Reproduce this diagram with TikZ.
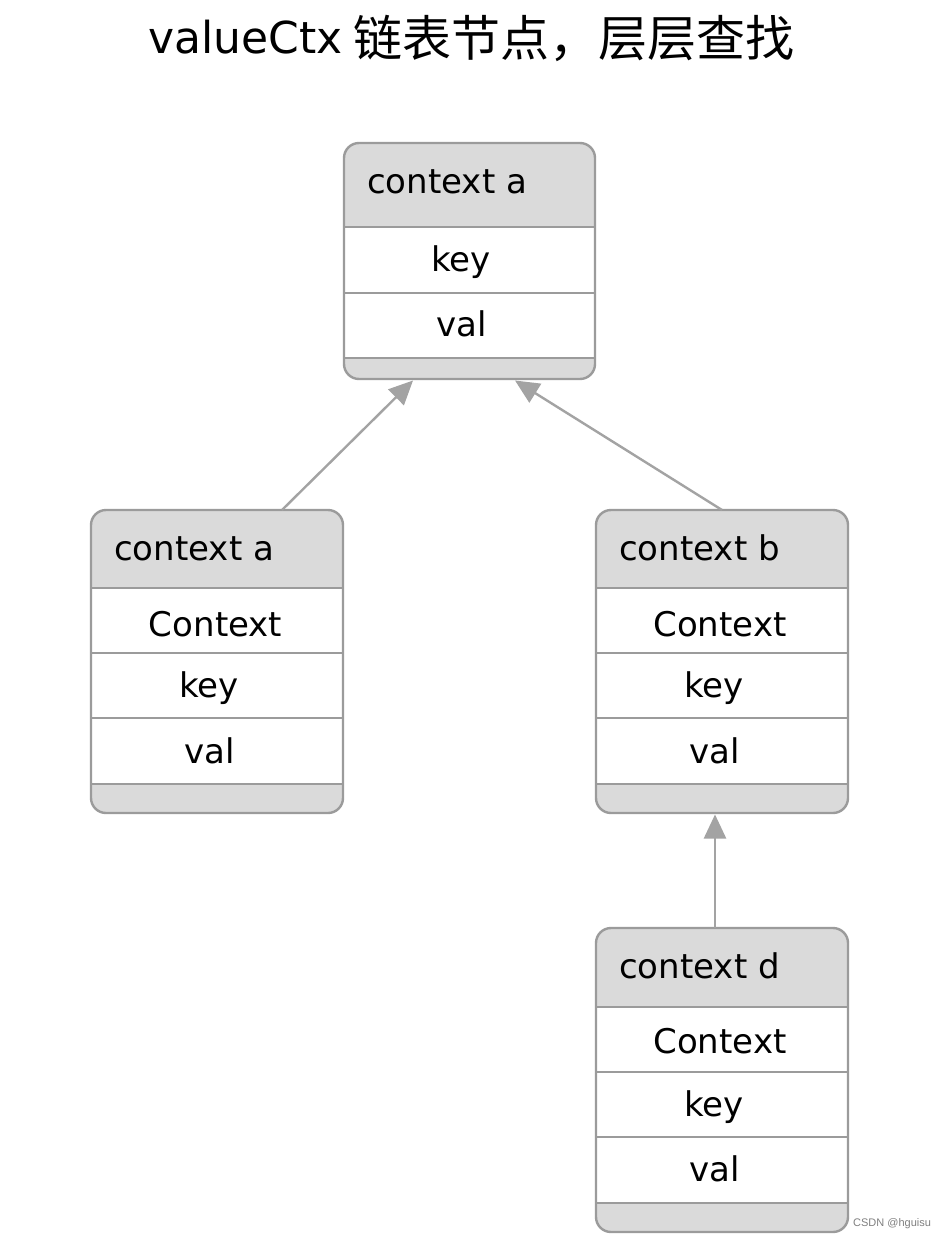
\documentclass[tikz,border=0pt]{standalone}
\usepackage{fontspec}
\usetikzlibrary{arrows.meta,calc}
\newfontfamily\dvs{DejaVu Sans}
\newfontfamily\cjk{Noto Sans CJK SC}
\newfontfamily\lib{Liberation Sans}
\definecolor{bord}{HTML}{9B9B9B}
\definecolor{hdr}{HTML}{DADADA}
\definecolor{arrc}{HTML}{A3A3A3}
\begin{document}
\begin{tikzpicture}[x=1pt,y=-1pt,
  ctx/.style={draw=none, fill=hdr, rounded corners=15pt, inner sep=0pt, outer sep=0pt},
  outline/.style={draw=bord, line width=2.4pt, rounded corners=15pt},
  sepline/.style={draw=bord, line width=2.2pt},
  hd/.style={anchor=base west, inner sep=0pt, font=\dvs\fontsize{34}{40}\selectfont},
  fld/.style={anchor=base, inner sep=0pt, font=\dvs\fontsize{34}{40}\selectfont},
  arr/.style={draw=arrc, line width=2.4pt, -{Triangle[length=24pt,width=22pt]}}
]
\useasboundingbox[fill=white] (0,0) rectangle (946,1242);

% title
\node[anchor=base west, inner sep=0pt] (title) at (148,53)
  {\dvs\fontsize{44}{50}\selectfont valueCtx\raisebox{-3pt}{\cjk\fontsize{49}{55}\selectfont\ 链表节点，层层查找}};

% ---- top box
\node[ctx, minimum width=251pt, minimum height=236pt] (top) at (469.5,261) {};
\fill[white] (344,227) rectangle (595,358);
\draw[sepline] (344,227) -- (595,227) (344,293) -- (595,293) (344,358) -- (595,358);
\draw[outline] (top.north west) rectangle (top.south east);
\node[hd] (top-h) at (367,193) {context a};
\node[fld] (top-k) at (461,271) {key};
\node[fld] (top-v) at (462,336) {val};

% ---- left box
\node[ctx, minimum width=252pt, minimum height=303pt] (la) at (217,661.5) {};
\fill[white] (91,588) rectangle (343,784);
\draw[sepline] (91,588) -- (343,588) (91,653) -- (343,653) (91,718) -- (343,718) (91,784) -- (343,784);
\draw[outline] (la.north west) rectangle (la.south east);
\node[hd] (la-h) at (114,560) {context a};
\node[fld] (la-c) at (215.5,636) {Context};
\node[fld] (la-k) at (209,697) {key};
\node[fld] (la-v) at (210,763) {val};

% ---- box b
\node[ctx, minimum width=252pt, minimum height=303pt] (b) at (722,661.5) {};
\fill[white] (596,588) rectangle (848,784);
\draw[sepline] (596,588) -- (848,588) (596,653) -- (848,653) (596,718) -- (848,718) (596,784) -- (848,784);
\draw[outline] (b.north west) rectangle (b.south east);
\node[hd] (b-h) at (619,560) {context b};
\node[fld] (b-c) at (720,636) {Context};
\node[fld] (b-k) at (714,697) {key};
\node[fld] (b-v) at (715,763) {val};

% ---- box d
\node[ctx, minimum width=252pt, minimum height=304pt] (d) at (722,1080) {};
\fill[white] (596,1007) rectangle (848,1203);
\draw[sepline] (596,1007) -- (848,1007) (596,1072) -- (848,1072) (596,1137) -- (848,1137) (596,1203) -- (848,1203);
\draw[outline] (d.north west) rectangle (d.south east);
\node[hd] (d-h) at (619,978) {context d};
\node[fld] (d-c) at (720,1053) {Context};
\node[fld] (d-k) at (714,1116) {key};
\node[fld] (d-v) at (715,1181) {val};

% ---- connectors
\draw[arr] ([xshift=65pt]la.north) -- ([xshift=-56.5pt,yshift=-1.5pt]top.south);
\draw[arr] (b.north) -- ([xshift=45.5pt,yshift=-1.5pt]top.south);
\draw[arr] ([xshift=-7pt]d.north) -- ([xshift=-7pt,yshift=-1.5pt]b.south);

% watermark
\node[anchor=west, inner sep=0pt, text=black!50, font=\lib\fontsize{11}{13}\selectfont] (wm) at (853,1224) {CSDN @hguisu};
\end{tikzpicture}
\end{document}
